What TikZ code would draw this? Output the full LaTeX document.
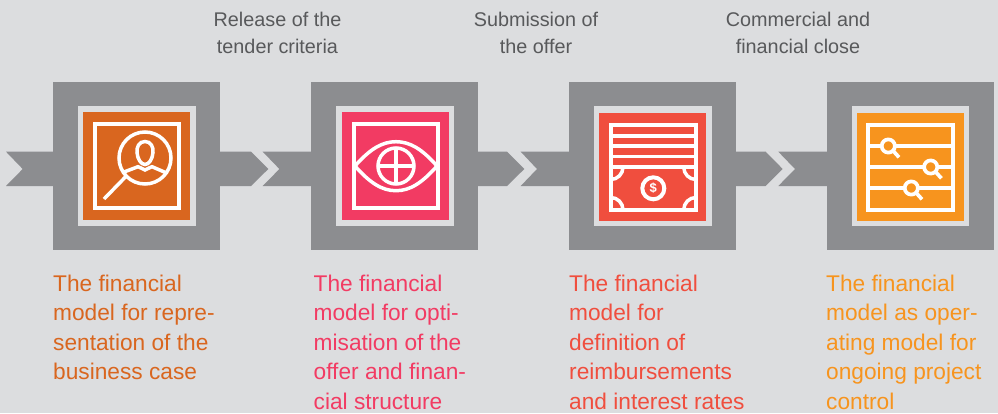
\documentclass[tikz,border=0pt]{standalone}
\usepackage{fontspec}
\setmainfont{Liberation Sans}
\definecolor{bgc}{HTML}{DCDDDF}
\definecolor{grayc}{HTML}{8C8D90}
\definecolor{txtc}{HTML}{58595B}
\definecolor{oc}{HTML}{D9661F}
\definecolor{pc}{HTML}{F23B63}
\definecolor{rc}{HTML}{F04E3E}
\definecolor{ac}{HTML}{F7941E}
\tikzset{
  bar/.style={fill=grayc,draw=none},
  ic/.style={draw=white,line width=3.9pt,line join=miter},
  icthin/.style={draw=white,line width=3.5pt},
  lens/.style={draw=white,line width=3.7pt,fill=ac},
  toplabel/.style={text=txtc,align=center,inner sep=0pt,font=\fontsize{19.8}{27}\selectfont},
  botlabel/.style={anchor=north west,align=left,inner sep=0pt,font=\fontsize{22.7}{29.5}\selectfont},
}
\begin{document}
\begin{tikzpicture}[x=1pt,y=-1pt]
\useasboundingbox (0,0) rectangle (998,413);
\fill[bgc] (0,0) rectangle (998,413);
\clip (0,0) rectangle (998,413);
% arrow bars
\fill[bar] (6,151.7) -- (251,151.7) -- (268.3,169) -- (251,186) -- (6,186) -- (22.7,169) -- cycle;
\fill[bar] (262.7,151.7) -- (507,151.7) -- (524.3,169) -- (507,186) -- (262.7,186) -- (279.4,169) -- cycle;
\fill[bar] (520.7,151.7) -- (765.7,151.7) -- (782.7,169) -- (765.7,186) -- (520.7,186) -- (537,169) -- cycle;
\fill[bar] (778.3,151.7) -- (830,151.7) -- (830,186) -- (778.3,186) -- (795,169) -- cycle;
% boxes
\fill[grayc] (53.3,82) rectangle (220.3,250);
\fill[bgc] (78,106) rectangle (196,225.7);
\fill[oc] (83,112) rectangle (190,220);
\fill[grayc] (311.3,82) rectangle (478.3,250);
\fill[bgc] (336,106) rectangle (453.7,225.7);
\fill[pc] (342,112) rectangle (449,220);
\fill[grayc] (569.3,82) rectangle (736,250);
\fill[bgc] (593.7,106) rectangle (711.7,225.7);
\fill[rc] (599,113) rectangle (706,221);
\fill[grayc] (827,82) rectangle (994,250);
\fill[bgc] (851.7,106) rectangle (969.3,225.7);
\fill[ac] (857,113) rectangle (964,221);
% icon 1
\draw[ic] (94.7,123.7) rectangle (179,208.3);
\draw[icthin] (145,158) circle (26);
\draw[icthin] (145,141.5) .. controls (139,141.5) and (136.5,147) .. (137,152.5) .. controls (137.5,159) and (141,164.5) .. (145,164.5) .. controls (149,164.5) and (152.5,159) .. (153,152.5) .. controls (153.5,147) and (151,141.5) .. (145,141.5) -- cycle;
\draw[icthin] (124,172) -- (138,166.7) .. controls (141,166.5) and (142,170) .. (145,170) .. controls (148,170) and (149,166.5) .. (152,166.7) -- (165.5,172.5);
\draw[icthin] (125.7,176.7) -- (104,199);
% icon 2
\draw[ic] (353.7,123.7) rectangle (438,208.3);
\draw[icthin] (355,166) .. controls (370,149) and (382,141.7) .. (396,141.7) .. controls (410,141.7) and (422,149) .. (437,166) .. controls (422,183) and (410,190.7) .. (396,190.7) .. controls (382,190.7) and (370,183) .. (355,166) -- cycle;
\draw[icthin] (396,166) circle (18);
\draw[icthin] (396,148) -- (396,184) (378,166) -- (414,166);
% icon 3
\draw[ic] (611,125.3) rectangle (695.7,209.7);
\draw[icthin] (609,136) -- (697,136) (609,146) -- (697,146) (609,156.3) -- (697,156.3) (609,167) -- (697,167);
\draw[icthin] (610.8,179.5) .. controls (617.5,179.5) and (623,174) .. (623,167);
\draw[icthin] (695.9,179.5) .. controls (689.2,179.5) and (683.7,174) .. (683.7,167);
\draw[icthin] (610.8,197.5) .. controls (617.5,197.5) and (623,203) .. (623,210);
\draw[icthin] (695.9,197.5) .. controls (689.2,197.5) and (683.7,203) .. (683.7,210);
\draw[draw=white,line width=4pt] (653.3,188.3) circle (11);
\node[inner sep=0pt,text=white,font=\fontsize{13}{13}\selectfont\bfseries] (dollar) at (653.3,188.3) {\$};
% icon 4
\draw[ic] (868.3,125.3) rectangle (952.7,209.7);
\draw[icthin] (867,146) -- (954,146) (867,167) -- (954,167) (867,188) -- (954,188);
\draw[lens] (888.3,146) circle (6.6);
\draw[lens] (893.5,151.2) -- (899,157.3);
\draw[lens] (930.7,167) circle (6.6);
\draw[lens] (935.9,172.2) -- (941.4,178.3);
\draw[lens] (911.3,188) circle (6.6);
\draw[lens] (916.5,193.2) -- (922,199.3);
% labels
\node[toplabel] (t1) at (277.5,33) {Release of the\\tender criteria};
\node[toplabel] (t2) at (536,33) {Submission of\\the offer};
\node[toplabel] (t3) at (798,33) {Commercial and\\financial close};
\node[botlabel,text=oc] (b1) at (53,274.5) {The financial\\model for repre-\\sentation of the\\business case};
\node[botlabel,text=pc] (b2) at (313.5,274.5) {The financial\\model for opti-\\misation of the\\offer and finan-\\cial structure};
\node[botlabel,text=rc] (b3) at (569,274.5) {The financial\\model for\\definition of\\reimbursements\\and interest rates};
\node[botlabel,text=ac] (b4) at (826,274.5) {The financial\\model as oper-\\ating model for\\ongoing project\\control};
\end{tikzpicture}
\end{document}
